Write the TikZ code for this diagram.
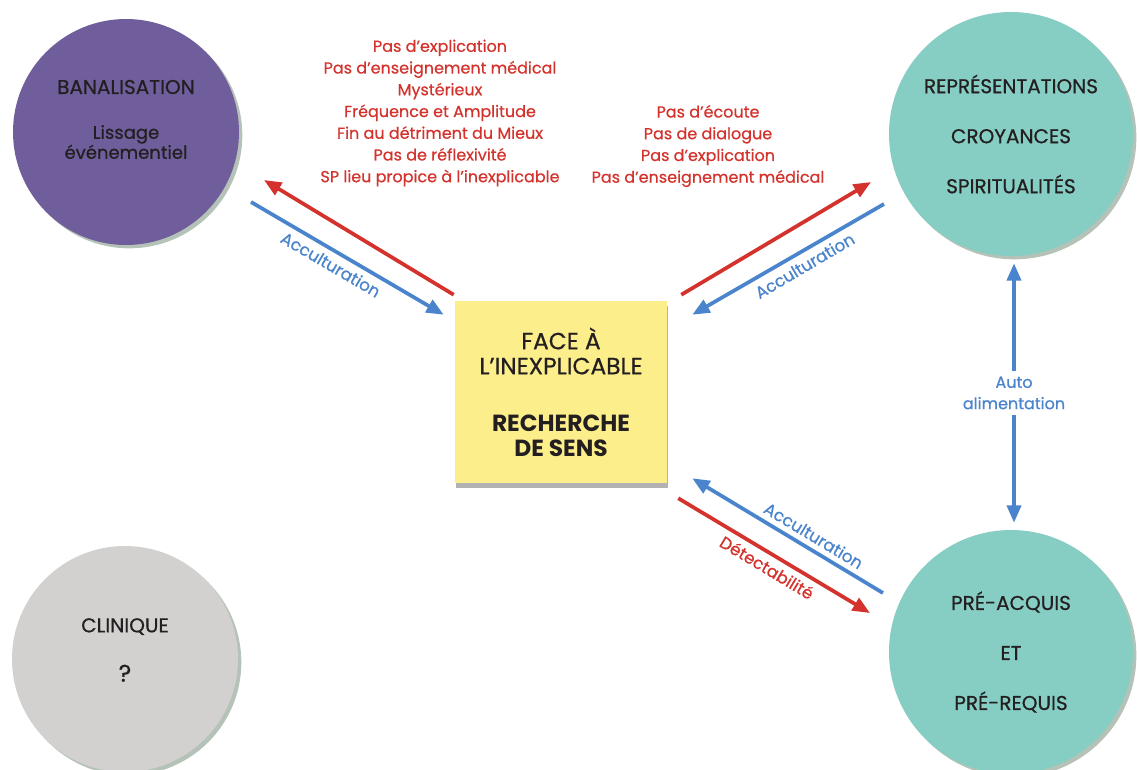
\documentclass[tikz,border=0pt]{standalone}
\usepackage{fontspec}
\setmainfont{Poppins}[UprightFeatures={FakeBold=0.6}]
\usetikzlibrary{arrows.meta,shadows}

\definecolor{banaPurple}{RGB}{112,93,155}
\definecolor{reprTeal}{RGB}{134,205,196}
\definecolor{clinGray}{RGB}{211,208,208}
\definecolor{faceYellow}{RGB}{253,238,140}
\definecolor{arrowRed}{RGB}{211,51,44}
\definecolor{arrowBlue}{RGB}{74,132,204}
\definecolor{inkDark}{RGB}{35,31,32}
\definecolor{shadowGreen}{RGB}{90,120,95}

\tikzset{
  bubble/.style={circle, draw=none, inner sep=0pt, text=inkDark, align=center,
    drop shadow={shadow xshift=2.5pt, shadow yshift=-2.5pt, fill=shadowGreen, opacity=0.45}},
  redarrow/.style={draw=arrowRed, line width=2.8pt, -{Triangle[length=13pt,width=10.5pt]}},
  bluearrow/.style={draw=arrowBlue, line width=2.8pt, -{Triangle[length=13pt,width=10.5pt]}},
  redtext/.style={text=arrowRed, align=center, inner sep=0.75pt, font=\fontsize{12}{16.3}\selectfont},
  bluetext/.style={text=arrowBlue, align=center, inner sep=2pt, font=\fontsize{12}{16}\selectfont},
  arrowlabel/.style={text=arrowBlue, inner sep=4pt, font=\fontsize{12.5}{15}\selectfont},
}

\begin{document}
\begin{tikzpicture}[x=0.75pt,y=0.75pt,yscale=-1,xscale=1]
\useasboundingbox (0,0) rectangle (1137,769);

%Shape: Circle
\node [bubble, fill=banaPurple, minimum size=169.5pt] (bana) at (126,132) {};
%Shape: Circle
\node [bubble, fill=reprTeal, minimum size=183pt, font=\fontsize{15}{37.5}\selectfont] (repr) at (1011,134) {REPRÉSENTATIONS\\CROYANCES\\SPIRITUALITÉS};
%Shape: Circle
\node [bubble, fill=reprTeal, minimum size=183pt, font=\fontsize{15}{37.5}\selectfont] (preq) at (1011,652) {PRÉ-ACQUIS\\ET\\PRÉ-REQUIS};
%Shape: Circle
\node [bubble, fill=clinGray, minimum size=169.5pt] (clin) at (125,659) {};
%Shape: Rectangle
\node [draw=none, fill=faceYellow, minimum width=159pt, minimum height=136.5pt, text=inkDark, align=center,
  drop shadow={shadow xshift=0.5pt, shadow yshift=-3.5pt, fill=black, opacity=0.3},
  font=\fontsize{17.5}{18.75}\selectfont] (face) at (561,392)
  {FACE À\\L’INEXPLICABLE\\[24pt]\textbf{RECHERCHE}\\\textbf{DE SENS}};

% Text Node
\node [text=inkDark, align=center, font=\fontsize{15}{15}\selectfont] (banatitle) at (126,87) {BANALISATION};
% Text Node
\node [text=inkDark, align=center, font=\fontsize{13.5}{15}\selectfont] (banasub) at (126,142) {Lissage\\événementiel};
% Text Node
\node [text=inkDark, align=center, font=\fontsize{15}{37}\selectfont] (clintxt) at (125,650) {CLINIQUE\\{\fontsize{18}{18}\selectfont ?}};

% Text Node
\node [redtext] (leftcauses) at (440,113) {Pas d’explication\\Pas d’enseignement médical\\Mystérieux\\Fréquence et Amplitude\\Fin au détriment du Mieux\\Pas de réflexivité\\SP lieu propice à l’inexplicable};
% Text Node
\node [redtext] (rightcauses) at (708,146) {Pas d’écoute\\Pas de dialogue\\Pas d’explication\\Pas d’enseignement médical};

% Arrows banalisation
\draw [redarrow] ([shift={(-1,-6)}]face.north west) -- ([shift={(138,48)}]bana.center);
\draw [bluearrow] ([shift={(125,70)}]bana.center) -- node [arrowlabel, pos=0.45, rotate=-30.3, anchor=north] {Acculturation} ([shift={(-11,14)}]face.north west);
% Arrows representations
\draw [redarrow] ([shift={(14,-6)}]face.north east) -- ([shift={(-140,48)}]repr.center);
\draw [bluearrow] ([shift={(-127,70)}]repr.center) -- node [arrowlabel, pos=0.45, rotate=30.5, anchor=north] {Acculturation} ([shift={(25,14)}]face.north east);
% Arrows pre-acquis
\draw [bluearrow] ([shift={(-128,-59)}]preq.center) -- node [arrowlabel, pos=0.4, rotate=-31, anchor=south] {Acculturation} ([shift={(25,-5)}]face.south east);
\draw [redarrow] ([shift={(11,15)}]face.south east) -- node [arrowlabel, text=arrowRed, pos=0.5, rotate=-31, anchor=north] {Détectabilité} ([shift={(-141,-39)}]preq.center);
% Auto alimentation
\draw [bluearrow, {Triangle[length=13pt,width=10.5pt]}-{Triangle[length=13pt,width=10.5pt]}] ([shift={(3,7)}]repr.south) -- node [bluetext, fill=white, inner sep=4pt] (autoali) {Auto\\alimentation} ([shift={(3,-7)}]preq.north);
\end{tikzpicture}
\end{document}
